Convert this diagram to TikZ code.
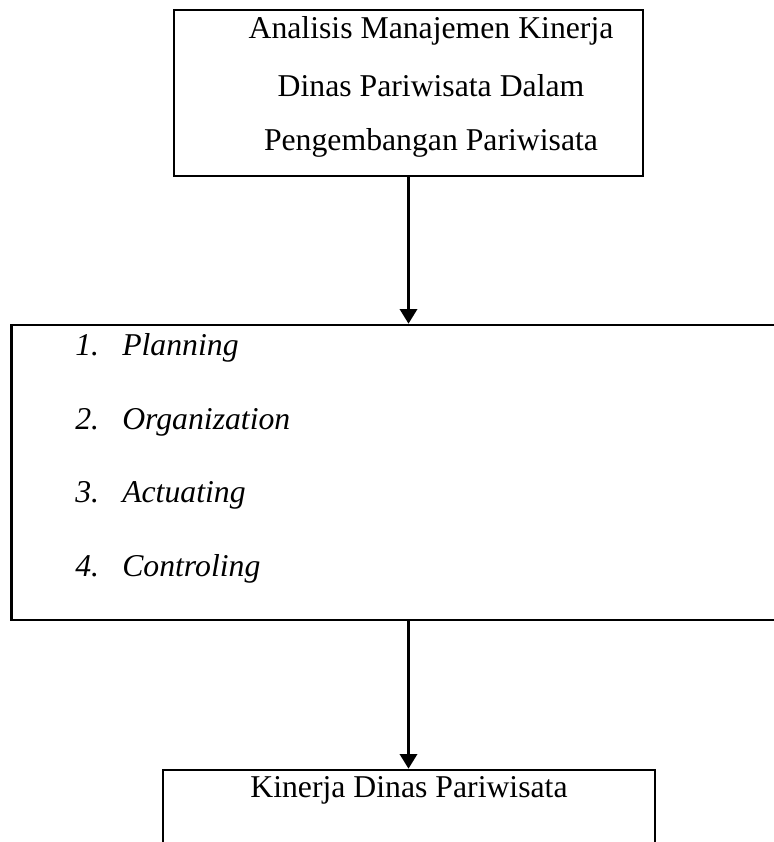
\documentclass[tikz,border=0pt]{standalone}
\usepackage{fontspec}
\setmainfont{Liberation Serif}
\usetikzlibrary{arrows.meta,positioning}

\begin{document}
\begin{tikzpicture}[
    x=0.75pt, y=-0.75pt,
    box/.style={rectangle, draw, line width=2pt, inner sep=0pt},
    txt/.style={inner sep=0pt, font=\fontsize{23.8}{28}\selectfont},
    item/.style={inner sep=0pt, anchor=base west, font=\fontsize{23.8}{28}\selectfont\itshape},
    flow/.style={-{Triangle[width=13pt,length=11pt]}, line width=1.9pt},
]
\clip (0,0) rectangle (774,842);
% Boxes
\node[box, minimum width=469*0.75pt, minimum height=166*0.75pt] (analisis) at (408.5,93) {};
\node[box, minimum width=794*0.75pt, minimum height=295*0.75pt] (fungsi) at (408.5,472.5) {};
\node[box, minimum width=492*0.75pt, minimum height=140*0.75pt] (kinerja) at (409,840) {};

% Texts
\foreach \t/\y [count=\i] in {Analisis Manajemen Kinerja/39, Dinas Pariwisata Dalam/96, Pengembangan Pariwisata/150}
    \node[txt, anchor=base] (judul\i) at (431,\y) {\t};
\foreach \t/\y [count=\i] in {Planning/355, Organization/429, Actuating/502, Controling/576}
    \node[item] (f\i) at (75,\y) {\makebox[35.25pt][l]{\i.}\t};
\node[txt, anchor=base] (hasil) at (409,797) {Kinerja Dinas Pariwisata};

% Arrows
\draw[flow] (analisis.south) -- (analisis.south |- fungsi.north);
\draw[flow] (fungsi.south -| analisis.south) -- (analisis.south |- kinerja.north);
\end{tikzpicture}
\end{document}
